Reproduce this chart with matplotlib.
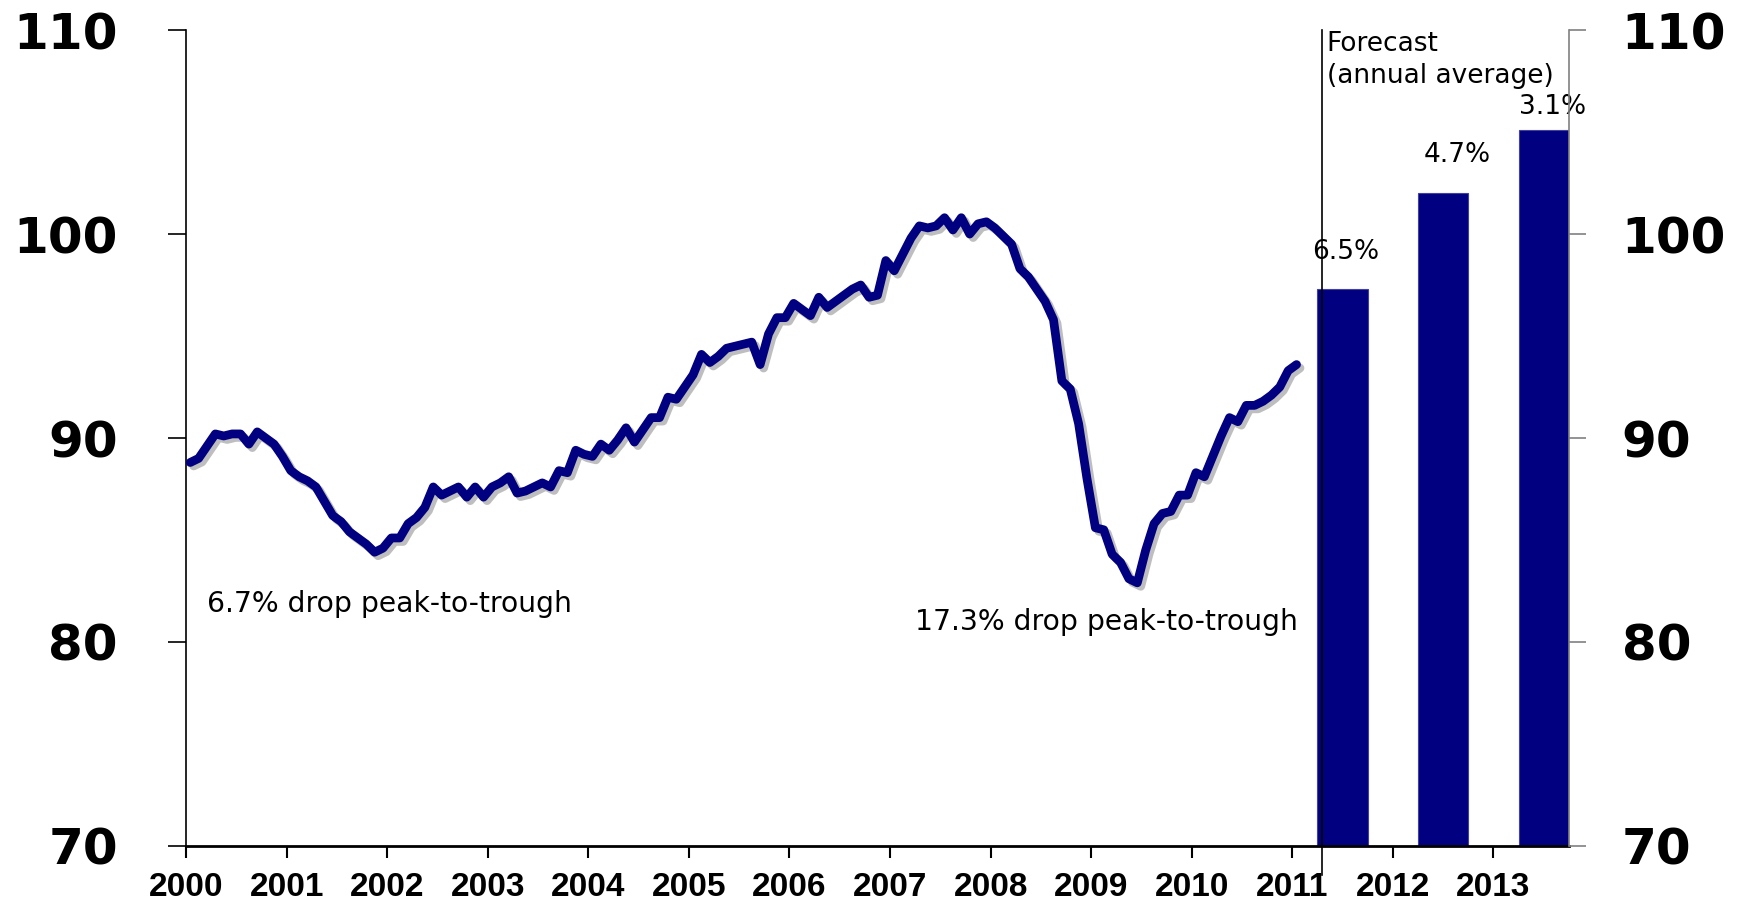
import matplotlib
matplotlib.use('Agg')
import matplotlib.pyplot as plt
import matplotlib.patheffects as pe
import numpy as np

# monthly index values (Jan..Dec)
idx_2000 = [88.8, 89.0, 89.6, 90.2, 90.1, 90.2, 90.2, 89.7, 90.3, 90.0, 89.7, 89.1]
idx_2001 = [88.4, 88.1, 87.9, 87.6, 86.9, 86.2, 85.9, 85.4, 85.1, 84.8, 84.4, 84.6]
idx_2002 = [85.1, 85.1, 85.8, 86.1, 86.6, 87.6, 87.2, 87.4, 87.6, 87.1, 87.6, 87.1]
idx_2003 = [87.6, 87.8, 88.1, 87.3, 87.4, 87.6, 87.8, 87.6, 88.4, 88.3, 89.4, 89.2]
idx_2004 = [89.1, 89.7, 89.4, 89.9, 90.5, 89.8, 90.4, 91.0, 91.0, 92.0, 91.9, 92.5]
idx_2005 = [93.1, 94.1, 93.7, 94.0, 94.4, 94.5, 94.6, 94.7, 93.6, 95.1, 95.9, 95.9]
idx_2006 = [96.6, 96.3, 96.0, 96.9, 96.4, 96.7, 97.0, 97.3, 97.5, 96.9, 97.0, 98.7]
idx_2007 = [98.2, 99.0, 99.8, 100.4, 100.3, 100.4, 100.8, 100.2, 100.8, 100.0, 100.5, 100.6]
idx_2008 = [100.3, 99.9, 99.5, 98.3, 97.9, 97.3, 96.7, 95.8, 92.8, 92.4, 90.7, 88.0]
idx_2009 = [85.6, 85.5, 84.3, 83.9, 83.1, 82.9, 84.5, 85.8, 86.3, 86.4, 87.2, 87.2]
idx_2010 = [88.3, 88.1, 89.1, 90.1, 91.0, 90.8, 91.6, 91.6, 91.8, 92.1, 92.5, 93.3]
idx_2011 = [93.6]

forecast_years = [2011, 2012, 2013]
forecast_values = [97.3, 102.0, 105.1]
forecast_labels = ['6.5%', '4.7%', '3.1%']

year_ticks = list(range(2000, 2014))
y_ticks = [70, 80, 90, 100, 110]

monthly = (idx_2000 + idx_2001 + idx_2002 + idx_2003 + idx_2004 + idx_2005 +
           idx_2006 + idx_2007 + idx_2008 + idx_2009 + idx_2010 + idx_2011)
months = np.arange(len(monthly))
x_line = 2000 + (months + 0.5) / 12

navy = '#000080'

fig = plt.figure(figsize=(17.45, 9.11), dpi=100)
ax = fig.add_axes([0.1066, 0.0714, 0.7925, 0.8956])

# forecast bars
ax.bar(np.array(forecast_years) + 0.5, forecast_values, width=0.5, color=navy,
       edgecolor='#4040a0', linewidth=0.8, zorder=2)
label_dx = [0.03, 0.14, 0.09]
label_dy = [1.5, 1.55, 0.8]
for yr, v, lab, dx, dy in zip(forecast_years, forecast_values, forecast_labels, label_dx, label_dy):
    ax.text(yr + 0.5 + dx, v + dy, lab, ha='center', va='baseline', fontsize=19,
            family='DejaVu Sans', zorder=5)

# index line with a soft shadow
ax.plot(x_line, monthly, color=navy, linewidth=6.3, solid_joinstyle='round',
        solid_capstyle='round', zorder=4,
        path_effects=[pe.SimpleLineShadow(offset=(2.5, -2.5), shadow_color='#707070', alpha=0.45),
                      pe.Normal()])

# forecast divider
ax.plot([2011.29, 2011.29], [110, 68.6], color='black', linewidth=1.2, zorder=6, clip_on=False)
ax.text(2011.34, 109.95, 'Forecast\n(annual average)', ha='left', va='top', fontsize=19,
        family='DejaVu Sans', linespacing=1.3, zorder=6)

# annotations
ax.text(2000.21, 81.86, '6.7% drop peak-to-trough', ha='left', va='center', fontsize=20.3,
        family='DejaVu Sans')
ax.text(2011.05, 81.0, '17.3% drop peak-to-trough', ha='right', va='center', fontsize=20.3,
        family='DejaVu Sans')

ax.set_xlim(2000, 2013.75)
ax.set_ylim(70, 110)
ax.set_xticks(year_ticks)
ax.set_xticklabels([str(y) for y in year_ticks], fontsize=24, fontweight='bold',
                   family='Liberation Sans')
ax.set_yticks(y_ticks)
ax.set_yticklabels([str(v) for v in y_ticks], fontsize=36, fontweight='bold',
                   family='DejaVu Sans')
ax.tick_params(axis='y', direction='out', length=13, width=1.2, pad=36)
ax.tick_params(axis='x', direction='out', length=8.5, width=1.5, pad=10)

for s in ['top', 'right']:
    ax.spines[s].set_visible(False)
ax.spines['left'].set_linewidth(1.2)
ax.spines['bottom'].set_linewidth(2.0)
ax.spines['bottom'].set_zorder(7)

# right axis
ax2 = ax.twinx()
ax2.set_ylim(70, 110)
ax2.set_yticks(y_ticks)
ax2.set_yticklabels([str(v) for v in y_ticks], fontsize=36, fontweight='bold',
                    family='DejaVu Sans')
ax2.tick_params(axis='y', direction='out', length=12, width=1.2, pad=26, color='#808080')
for s in ['top', 'left', 'bottom']:
    ax2.spines[s].set_visible(False)
ax2.spines['right'].set_color('#808080')
ax2.spines['right'].set_linewidth(1.2)

fig.savefig('out.png', dpi=100)
